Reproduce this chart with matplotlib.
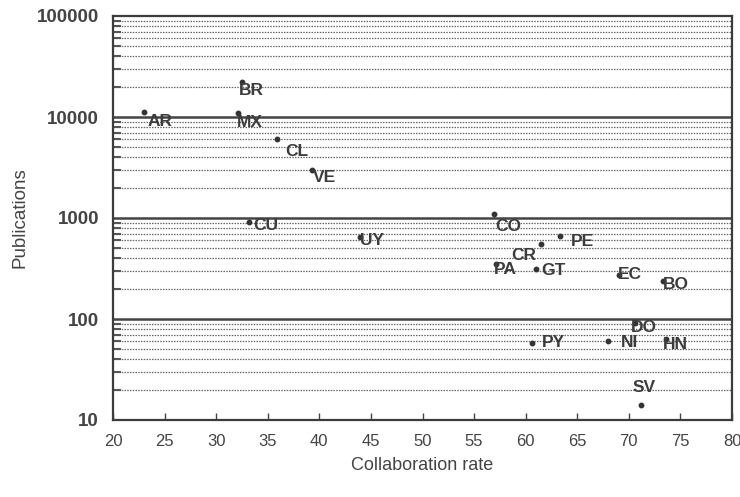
import numpy as np
import matplotlib
matplotlib.use('Agg')
import matplotlib.pyplot as plt
from matplotlib.ticker import LogLocator, FixedLocator, NullFormatter

plt.rcParams['font.family'] = ['Liberation Sans', 'DejaVu Sans']

# Datos
paises = ['AR', 'BR', 'MX', 'CL', 'VE', 'CU', 'UY', 'CO', 'PE', 'CR',
          'GT', 'PA', 'EC', 'BO', 'DO', 'PY', 'NI', 'HN', 'SV']
colab = [23.0, 32.5, 32.1, 35.9, 39.3, 33.2, 43.9, 56.9, 63.3, 61.5,
         61.0, 57.1, 69.0, 73.3, 70.6, 60.6, 68.0, 73.6, 71.2]
publis = [11200, 22400, 11000, 6000, 3000, 915, 650, 1090, 660, 553,
          316, 350, 270, 238, 92, 58, 61, 63, 14]
xticks = [20, 25, 30, 35, 40, 45, 50, 55, 60, 65, 70, 75, 80]
yticks = [10, 100, 1000, 10000, 100000]

# desplazamiento de las etiquetas (pixeles, x a la derecha, y hacia arriba)
desp = {'AR': (16, -9), 'BR': (9, -9), 'MX': (12, -10), 'CL': (20, -12),
        'VE': (12, -8), 'CU': (17, -4), 'UY': (12, -4), 'CO': (15, -12),
        'PE': (23, -5), 'CR': (-17, -12), 'GT': (17, -2), 'PA': (10, -5),
        'EC': (11, 1), 'BO': (13, -4), 'DO': (9, -5), 'PY': (22, 0),
        'NI': (21, -2), 'HN': (9, -5), 'SV': (3, 18)}

gris = '#444444'

fig = plt.figure(figsize=(7.4, 4.97), dpi=100)
ax = fig.add_axes([113/740, 1 - 420/497, (732 - 113)/740, (420 - 16)/497])

ax.set_yscale('log')
ax.set_xlim(20, 80)
ax.set_ylim(10, 100000)

# rejilla: lineas punteadas en 2..9 y solidas en las decadas
for d in [10, 100, 1000, 10000]:
    for m in range(2, 10):
        ax.axhline(d*m, color='#666666', lw=0.9, ls=(0, (1.2, 1.0)), zorder=1)
for y in yticks[1:-1]:
    ax.axhline(y, color='#444444', lw=1.8, zorder=1)

ax.plot(colab, publis, 'o', color='#333333', ms=3.2, zorder=3)
for p, x, y in zip(paises, colab, publis):
    dx, dy = desp[p]
    ax.annotate(p, (x, y), xytext=(dx, dy), textcoords='offset pixels',
                ha='center', va='center', fontsize=12.5, fontweight='bold',
                color='#3c3c3c', zorder=4)

ax.xaxis.set_major_locator(FixedLocator(xticks))
ax.yaxis.set_major_locator(FixedLocator(yticks))
ax.yaxis.set_minor_locator(LogLocator(base=10, subs=np.arange(2, 10)))
ax.yaxis.set_minor_formatter(NullFormatter())
ax.set_yticklabels([str(v) for v in yticks])

ax.tick_params(axis='x', direction='in', length=5, width=1, pad=10,
               labelsize=12, colors=gris)
ax.tick_params(axis='y', which='major', direction='in', length=0, pad=10,
               labelsize=13.5, colors=gris)
ax.tick_params(axis='y', which='minor', direction='in', length=6, width=1.5,
               colors='#555555')
for lab in ax.get_yticklabels():
    lab.set_fontweight('bold')
for s in ax.spines.values():
    s.set_linewidth(1.6)
    s.set_color('#3c3c3c')

ax.set_xlabel('Collaboration rate', fontsize=13, color=gris, labelpad=6)
ax.set_ylabel('Publications', fontsize=13.5, color=gris, labelpad=6)

fig.savefig('out.png', dpi=100)
